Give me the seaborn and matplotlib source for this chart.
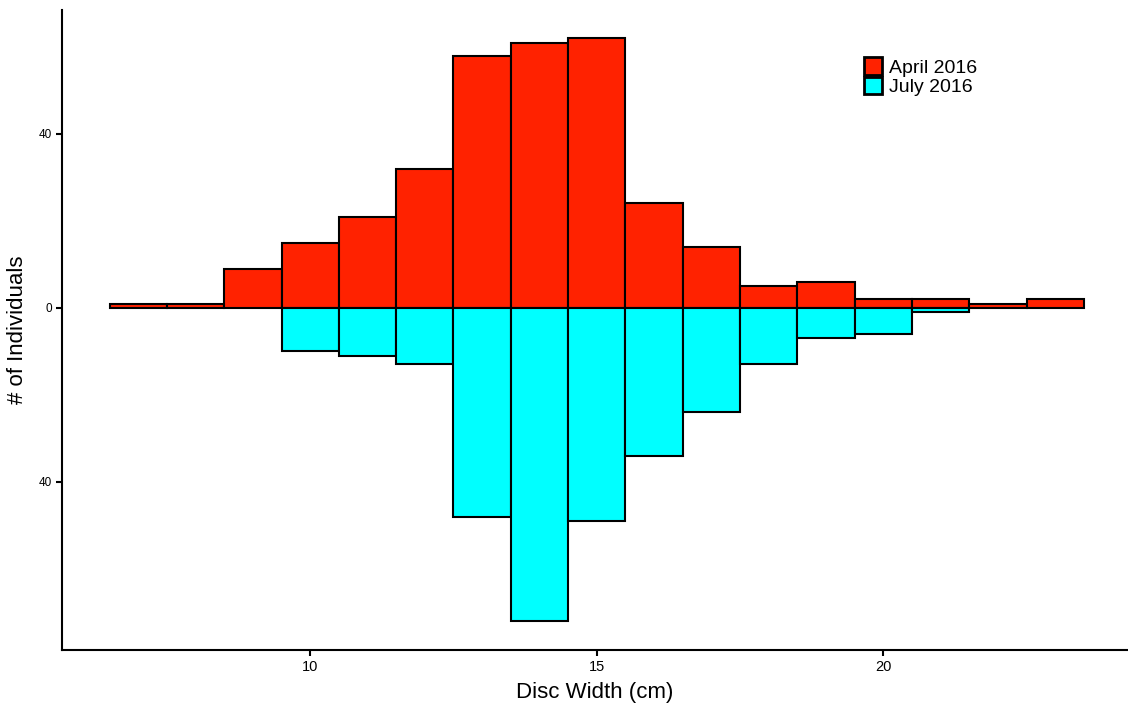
import matplotlib
matplotlib.use("Agg")
import matplotlib.pyplot as plt
from matplotlib.patches import Patch
from matplotlib.ticker import FuncFormatter
import numpy as np
import pandas as pd
import seaborn as sns

# Disc width classes (cm) and counts per survey
widths = [7, 8, 9, 10, 11, 12, 13, 14, 15, 16, 17, 18, 19, 20, 21, 22, 23]
april_2016 = [1, 1, 9, 15, 21, 32, 58, 61, 62, 24, 14, 5, 6, 2, 2, 1, 2]
july_2016 = [0, 0, 0, 10, 11, 13, 48, 72, 49, 34, 24, 13, 7, 6, 1, 0, 0]
series_labels = ["April 2016", "July 2016"]
series_colors = ["#FF2200", "#00FFFF"]

sns.set_theme(style="ticks")
plt.rcParams["font.family"] = ["Liberation Sans", "DejaVu Sans"]
plt.rcParams["text.color"] = "black"
plt.rcParams["axes.labelcolor"] = "black"

fig = plt.figure(figsize=(11.28, 7.07), dpi=100)
ax = fig.add_axes([0.055, 0.081, 0.945, 0.905])

april_df = pd.DataFrame({"width": widths, "count": april_2016})
july_df = pd.DataFrame({"width": widths, "count": [-v for v in july_2016]})
july_df = july_df[july_df["count"] != 0]

# April bars point up, July bars point down (negated counts)
for df, color in [(april_df, series_colors[0]), (july_df, series_colors[1])]:
    sns.barplot(data=df, x="width", y="count", native_scale=True, width=1.0,
                color=color, saturation=1, edgecolor="black", linewidth=1.5,
                ax=ax, errorbar=None)

ax.set_xlim(5.67, 24.27)
ax.set_ylim(-78.6, 68.5)
ax.set_xticks([10, 15, 20])
ax.set_yticks([-40, 0, 40])
ax.yaxis.set_major_formatter(FuncFormatter(lambda v, p: f"{abs(int(v))}"))
ax.tick_params(axis="y", labelsize=8.5, length=4, width=1.5, colors="black", pad=3)
ax.tick_params(axis="x", labelsize=10.5, length=4, width=1.5, colors="black")
for s in ["left", "bottom"]:
    ax.spines[s].set_linewidth(1.5)
    ax.spines[s].set_color("black")
sns.despine(ax=ax)

ax.set_xlabel("Disc Width (cm)", fontsize=16, labelpad=6, color="black")
ax.set_ylabel("# of Individuals", fontsize=16, labelpad=8, color="black")

handles = [Patch(facecolor=c, edgecolor="black", linewidth=2, label=l)
           for c, l in zip(series_colors, series_labels)]
ax.legend(handles=handles, loc="upper left", bbox_to_anchor=(0.752, 0.926),
          frameon=False, fontsize=14, handlelength=0.95, handleheight=1.0,
          handletextpad=0.35, labelspacing=0.0, borderaxespad=0, borderpad=0)

fig.savefig("out.png", dpi=100)
